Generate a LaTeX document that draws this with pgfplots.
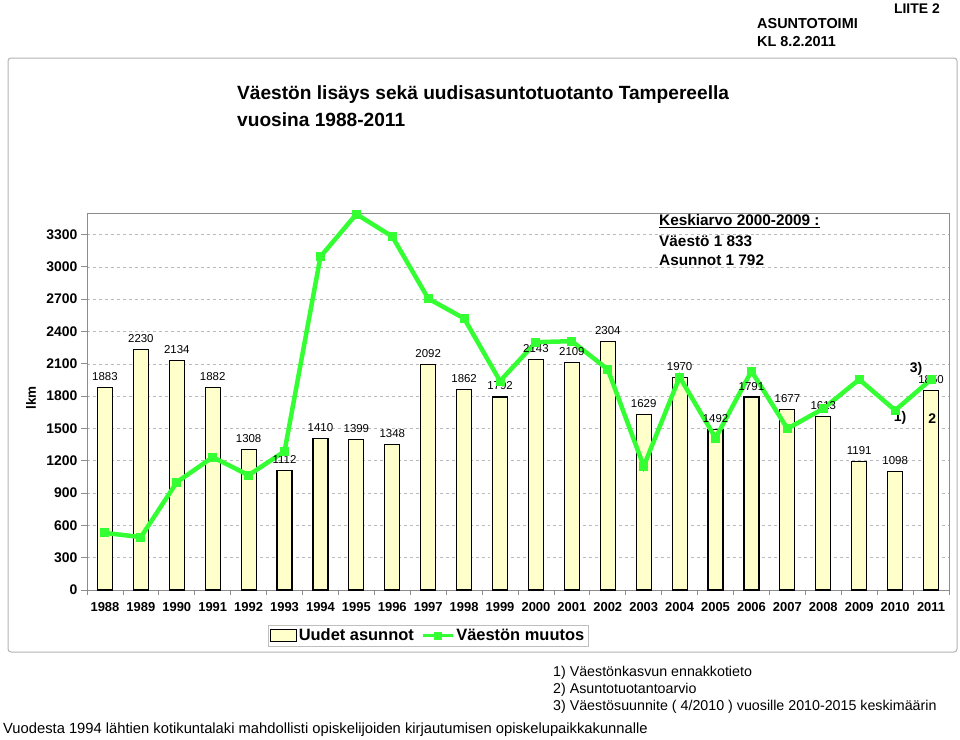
\documentclass[border=0pt]{standalone}
\usepackage{pgfplots}
\pgfplotsset{compat=1.18}
\usepackage{fontspec}
\setmainfont{Liberation Sans}
\definecolor{baryellow}{RGB}{255,255,204}
\definecolor{lgreen}{RGB}{51,255,51}
\definecolor{gridgray}{RGB}{140,140,140}
\pgfplotsset{/pgf/number format/1000 sep={},
  barleg/.style={legend image code/.code={\draw[##1, line width=1bp] (0bp,-6bp) rectangle (26bp,6bp);}},
  lineleg/.style={legend image code/.code={\draw[mark repeat=2,mark phase=2,##1, line width=3.5bp, mark size=3.5bp] plot coordinates {(0bp,0bp) (15bp,0bp) (30bp,0bp)};}}
}
\begin{document}
\begin{tikzpicture}
\path (0bp,0bp) rectangle (960bp,-740bp);
% outer frame
\draw[gray!60, line width=1bp, rounded corners=3bp] (8bp,-58bp) rectangle (957bp,-652bp);
% header
\node[anchor=east, font=\bfseries\fontsize{14}{15}\selectfont, inner sep=0] at (940bp,-9bp) {LIITE 2};
\node[anchor=west, font=\bfseries\fontsize{14.5}{15}\selectfont, inner sep=0] at (757bp,-24bp) {ASUNTOTOIMI};
\node[anchor=west, font=\bfseries\fontsize{14.5}{15}\selectfont, inner sep=0] at (757bp,-42bp) {KL 8.2.2011};
% title
\node[anchor=west, font=\bfseries\fontsize{19.2}{22}\selectfont, inner sep=0] at (237bp,-95bp) {Väestön lisäys sekä uudisasuntotuotanto Tampereella};
\node[anchor=west, font=\bfseries\fontsize{19.2}{22}\selectfont, inner sep=0] at (237bp,-120bp) {vuosina 1988-2011};
% y label
\node[rotate=90, font=\bfseries\fontsize{13.5}{15}\selectfont, inner sep=0] at (31bp,-398bp) {lkm};
\begin{axis}[
  at={(87bp,-590bp)}, anchor=south west,
  scale only axis, width=862bp, height=377bp,
  xmin=-0.5, xmax=23.5, ymin=0, ymax=3500,
  ytick={0,300,...,3300},
  xtick={0,...,23},
  xticklabels={1988,1989,1990,1991,1992,1993,1994,1995,1996,1997,1998,1999,2000,2001,2002,2003,2004,2005,2006,2007,2008,2009,2010,2011},
  minor xtick={-0.5,0.5,...,23.5},
  xtick pos=lower, ytick pos=left,
  major x tick style={draw=none},
  tick align=outside,
  major tick length=6bp, minor tick length=5bp,
  tick style={gridgray, line width=0.8bp},
  axis line style={gridgray, line width=1bp},
  ymajorgrids, grid style={dashed, gray!55, line width=0.6bp},
  /pgf/number format/assume math mode=true,
  yticklabel style={font=\bfseries\fontsize{14}{16}\selectfont},
  xticklabel style={font=\bfseries\fontsize{13}{15}\selectfont, yshift=-3bp},
  legend columns=2,
  legend style={at={(0.3956,-0.1207)}, anchor=center, draw=gray!50, font=\bfseries\fontsize{16.5}{19}\selectfont, inner sep=2bp, /tikz/every even column/.append style={column sep=5bp}},
  legend cell align=left,
  clip=false,
]
\addplot[ybar, bar width=15bp, fill=baryellow, draw=black, line width=1.2bp,
  nodes near coords, nodes near coords style={font=\fontsize{11.5}{13}\selectfont, black, yshift=3bp},
  barleg]
coordinates {
(0,1883) (1,2230) (2,2134) (3,1882) (4,1308) (5,1112) (6,1410) (7,1399) (8,1348) (9,2092) (10,1862) (11,1792)
(12,2143) (13,2109) (14,2304) (15,1629) (16,1970) (17,1492) (18,1791) (19,1677) (20,1613) (21,1191) (22,1098) (23,1850)};
\addlegendentry{Uudet asunnot}
\addplot[lgreen, line width=4.5bp, mark=square*, mark size=4bp, mark options={fill=lgreen, draw=lgreen, line width=0bp},
  lineleg]
coordinates {
(0,530) (1,491) (2,1001) (3,1233) (4,1066) (5,1288) (6,3095) (7,3490) (8,3281) (9,2706) (10,2521) (11,1940)
(12,2301) (13,2310) (14,2048) (15,1149) (16,1977) (17,1411) (18,2032) (19,1498) (20,1684) (21,1955) (22,1668) (23,1955)};
\addlegendentry{Väestön muutos}
\node[font=\bfseries\fontsize{14}{16}\selectfont] at (axis cs:22.14,1594) {1)};
\node[font=\bfseries\fontsize{14}{16}\selectfont] at (axis cs:23.03,1594) {2};
\node[font=\bfseries\fontsize{14}{16}\selectfont] at (axis cs:22.58,2050) {3)};
\end{axis}
% average box
\node[anchor=west, font=\bfseries\fontsize{15.4}{16}\selectfont, inner sep=0] at (659bp,-221bp) {\underline{Keskiarvo 2000-2009 :}};
\node[anchor=west, font=\bfseries\fontsize{15.4}{16}\selectfont, inner sep=0] at (659bp,-241bp) {Väestö 1 833};
\node[anchor=west, font=\bfseries\fontsize{15.4}{16}\selectfont, inner sep=0] at (659bp,-260bp) {Asunnot 1 792};
% notes
\node[anchor=west, font=\fontsize{14.3}{16}\selectfont, inner sep=0] at (553bp,-673bp) {1) Väestönkasvun ennakkotieto};
\node[anchor=west, font=\fontsize{14.3}{16}\selectfont, inner sep=0] at (553bp,-690bp) {2) Asuntotuotantoarvio};
\node[anchor=west, font=\fontsize{14.3}{16}\selectfont, inner sep=0] at (553bp,-707bp) {3) Väestösuunnite ( 4/2010 ) vuosille 2010-2015 keskimäärin};
\node[anchor=west, font=\fontsize{14.8}{16}\selectfont, inner sep=0] at (3bp,-730bp) {Vuodesta 1994 lähtien kotikuntalaki mahdollisti opiskelijoiden kirjautumisen opiskelupaikkakunnalle};
\end{tikzpicture}
\end{document}
